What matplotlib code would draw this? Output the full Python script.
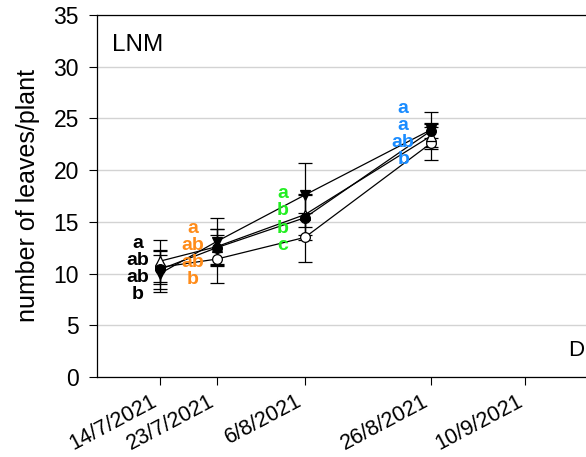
import numpy as np
import pandas as pd
import matplotlib
matplotlib.use("Agg")
import matplotlib.pyplot as plt
import matplotlib.transforms as mtransforms

plt.rcParams['font.family'] = ['Liberation Sans', 'DejaVu Sans']

"----------------------------------- Data -----------------------------------"

dates = pd.to_datetime(['2021-07-14', '2021-07-23', '2021-08-06', '2021-08-26'])
tick_dates = pd.to_datetime(['2021-07-14', '2021-07-23', '2021-08-06',
                             '2021-08-26', '2021-09-10'])
tick_labels = ['14/7/2021', '23/7/2021', '6/8/2021', '26/8/2021', '10/9/2021']

s_tri_down = [10.0, 13.1, 17.6, 23.9]
sd_tri_down = [1.8, 2.3, 3.1, 1.7]
s_tri_up = [11.2, 12.6, 15.7, 23.3]
sd_tri_up = [2.0, 1.7, 2.0, 1.3]
s_dot = [10.4, 12.5, 15.4, 23.8]
sd_dot = [1.9, 1.8, 2.2, 0.7]
s_circle = [10.6, 11.4, 13.5, 22.6]
sd_circle = [1.6, 2.3, 2.4, 1.6]

letters = [['a', 'ab', 'ab', 'b'],
           ['a', 'ab', 'ab', 'b'],
           ['a', 'b', 'b', 'c'],
           ['a', 'a', 'ab', 'b']]
letter_colors = ['black', '#ff8c1a', '#22ee22', '#1a8cff']

"---------------------------------- Figure ----------------------------------"

fig = plt.figure(figsize=(5.86, 4.57), dpi=100)
x0 = pd.Timestamp('2021-07-04')
x1 = pd.Timestamp('2021-10-05')
px_per_day = 6.3
right_px = 97 + (x1 - x0).days * px_per_day
ax = fig.add_axes([97 / 586, 1 - 377 / 457, (right_px - 97) / 586,
                   (377 - 15) / 457])

series = [
    (s_circle, sd_circle, 'o', 'white'),
    (s_tri_up, sd_tri_up, '^', 'white'),
    (s_dot, sd_dot, 'o', 'black'),
    (s_tri_down, sd_tri_down, 'v', 'black'),
]
for vals, sds, mk, fc in series:
    ax.errorbar(dates, vals, yerr=sds, fmt='-', color='black', lw=0.9,
                marker=mk, markersize=7, markerfacecolor=fc,
                markeredgecolor='black', markeredgewidth=0.9,
                ecolor='black', elinewidth=0.9, capsize=5, capthick=0.9,
                zorder=3)

# significance letters, stacked to the left of each date
letter_tops = [12.9, 14.4, 17.7, 26.0]
letter_shift_days = [3.6, 3.8, 3.5, 4.4]
letter_step = 1.65
for i, d in enumerate(dates):
    for j, let in enumerate(letters[i]):
        ax.text(d - pd.Timedelta(days=letter_shift_days[i]),
                letter_tops[i] - letter_step * j,
                let, color=letter_colors[i], fontsize=14, fontweight='bold',
                ha='center', va='center', zorder=4)

ax.set_ylim(0, 35)
ax.set_yticks(np.arange(0, 36, 5))
ax.set_xlim(x0, x1)
ax.set_xticks(tick_dates)
ax.set_xticklabels(tick_labels, rotation=28, ha='right',
                   rotation_mode='anchor')
ax.tick_params(axis='y', labelsize=16.5, pad=7)
ax.tick_params(axis='x', labelsize=15.5, pad=4)
ax.tick_params(axis='both', direction='out', length=6, width=0.8)
shift = mtransforms.ScaledTranslation(-9 / 100, 0, fig.dpi_scale_trans)
for lab in ax.get_xticklabels():
    lab.set_transform(lab.get_transform() + shift)
ax.yaxis.grid(True, color='#d3d3d3', lw=1)
ax.set_axisbelow(True)
for sp in ax.spines.values():
    sp.set_linewidth(0.9)

ax.set_ylabel('number of leaves/plant', fontsize=18, labelpad=10)
ax.text(112 / 586, 1 - 45 / 457, 'LNM', transform=fig.transFigure,
        fontsize=17.5, ha='left', va='center')
fig.text(568 / 586, 1 - 351 / 457, 'D', fontsize=16, ha='left',
         va='center')

fig.savefig('out.png', dpi=100)
